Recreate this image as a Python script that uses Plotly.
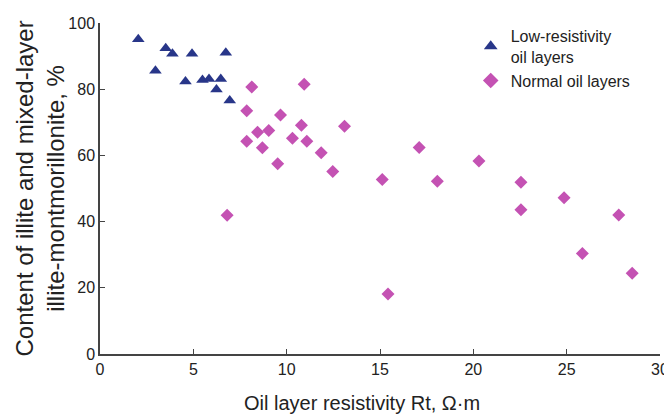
import plotly.graph_objects as go

# Low-resistivity oil layers
low_rt = [2.05, 3.52, 3.88, 4.93, 6.74, 2.97, 4.58, 5.49, 5.84, 6.47, 6.24, 6.95]
low_content = [95.1, 92.4, 90.7, 90.7, 91.0, 85.6, 82.3, 82.8, 83.1, 83.1, 79.9, 76.6]

# Normal oil layers
normal_rt = [8.13, 10.94, 7.86, 9.67, 10.79, 13.1, 8.44, 9.04, 7.86, 10.31, 11.08, 8.70,
             11.85, 9.52, 12.47, 15.12, 6.81, 17.1, 20.3, 18.07, 22.55, 24.86, 22.55,
             27.79, 25.84, 28.51, 15.43]
normal_content = [80.7, 81.5, 73.5, 72.2, 69.1, 68.8, 67.0, 67.5, 64.3, 65.2, 64.3, 62.3,
                  60.8, 57.5, 55.1, 52.7, 41.9, 62.4, 58.3, 52.2, 51.9, 47.2, 43.6,
                  42.0, 30.4, 24.4, 18.1]

x_ticks = [0, 5, 10, 15, 20, 25, 30]
y_ticks = [0, 20, 40, 60, 80, 100]

FONT = "Liberation Sans, Arial, sans-serif"

fig = go.Figure()
fig.add_trace(go.Scatter(
    x=low_rt, y=low_content, mode="markers",
    name="Low-resistivity<br>oil layers",
    marker=dict(symbol="triangle-up", size=11, color="#283689"),
))
fig.add_trace(go.Scatter(
    x=normal_rt, y=normal_content, mode="markers",
    name="Normal oil layers",
    marker=dict(symbol="diamond", size=10, color="#C452B3"),
))

fig.add_annotation(
    text="Oil layer resistivity Rt, Ω·m",
    xref="paper", yref="paper", x=0.468, y=0, yshift=-49,
    xanchor="center", yanchor="middle", showarrow=False,
    font=dict(size=20, family=FONT, color="#222222"),
)
fig.add_annotation(
    text="Content of illite and mixed-layer<br>illite-montmorillonite, %",
    xref="paper", yref="paper", x=0, y=0.5, xshift=-61, textangle=-90,
    xanchor="center", yanchor="middle", showarrow=False,
    font=dict(size=24, family=FONT, color="#222222"),
)

fig.update_layout(
    width=664, height=406,
    margin=dict(l=92, r=12, t=11, b=60),
    paper_bgcolor="white", plot_bgcolor="white",
    font=dict(family=FONT, color="#222222"),
    showlegend=True,
    legend=dict(x=0.662, y=1.012, xanchor="left", yanchor="top",
                font=dict(size=16, family=FONT, color="#222222"),
                bgcolor="rgba(0,0,0,0)", tracegroupgap=0, itemsizing="constant",
                itemwidth=30),
    xaxis=dict(
        range=[0, 30], tickvals=x_ticks, ticks="inside", ticklen=5,
        tickcolor="#444444", showline=True, linecolor="#444444", linewidth=1.5,
        showgrid=False, zeroline=False, automargin=False,
        tickfont=dict(size=16, family=FONT, color="#222222"),
    ),
    yaxis=dict(
        range=[0, 100], tickvals=y_ticks, ticks="inside", ticklen=5,
        tickcolor="#444444", showline=True, linecolor="#444444", linewidth=1.5,
        showgrid=False, zeroline=False, automargin=False,
        tickfont=dict(size=16, family=FONT, color="#222222"),
    ),
)

fig.write_html("out.html")
